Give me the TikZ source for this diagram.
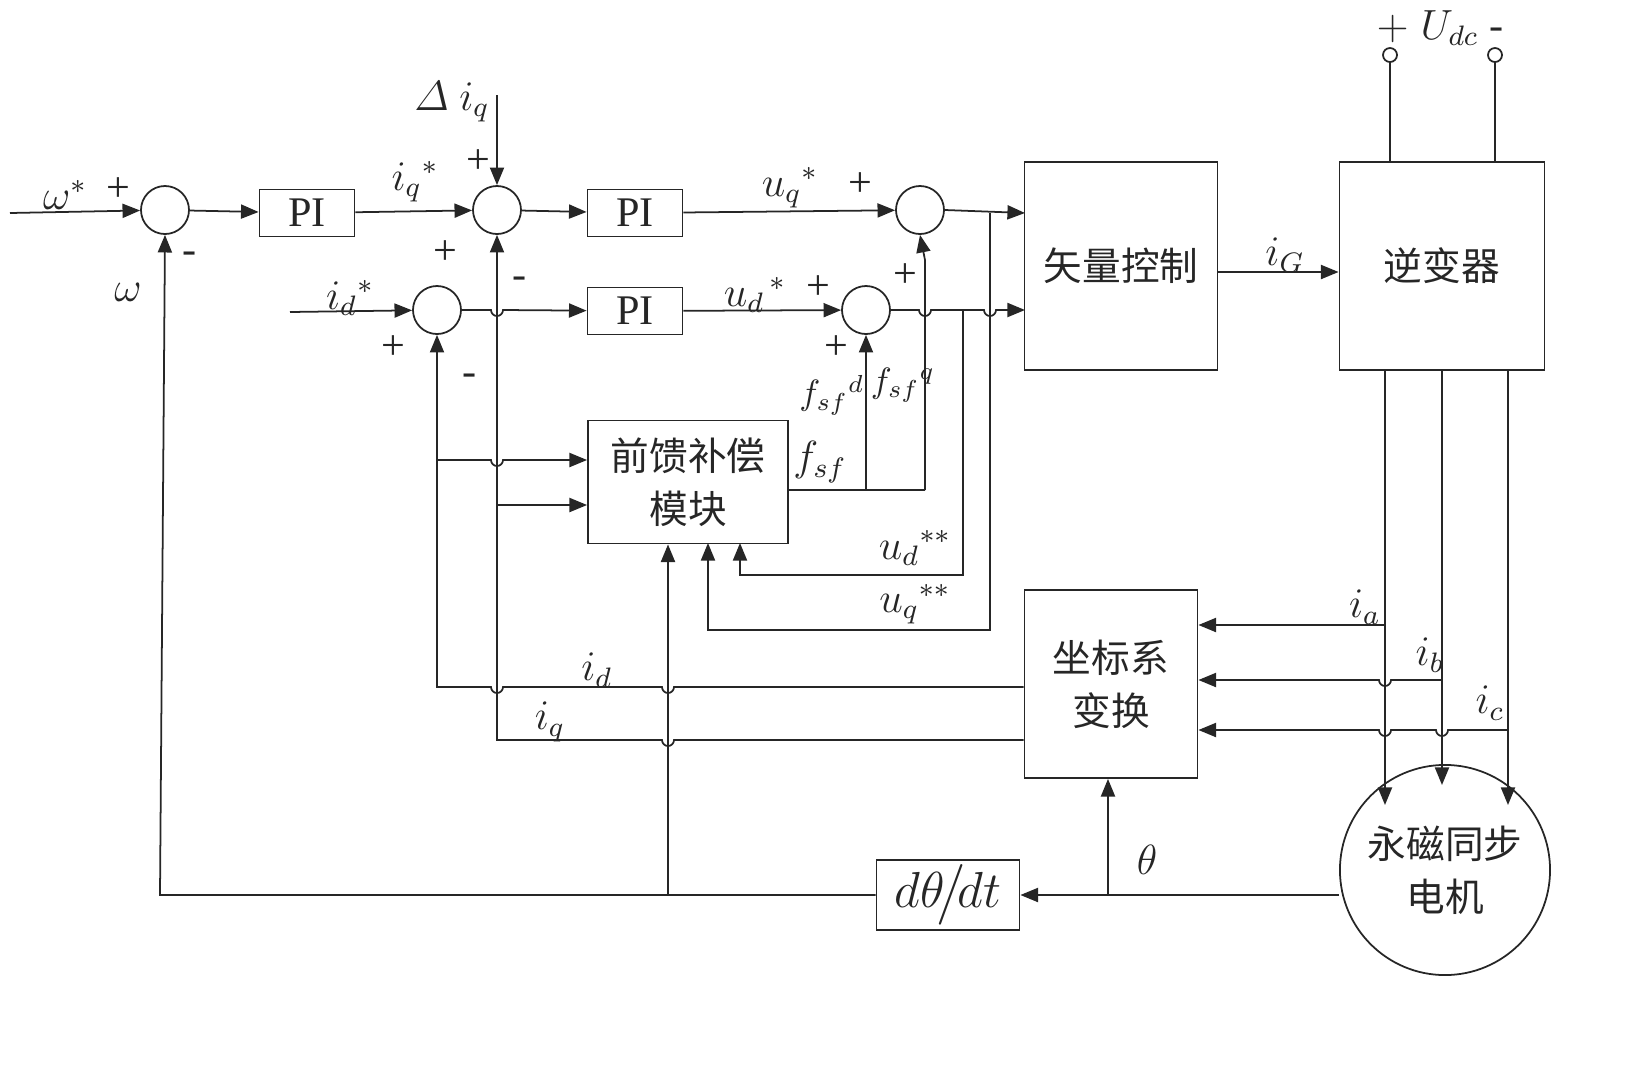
\documentclass[tikz,border=0pt]{standalone}
\usepackage{amsmath}
\usepackage{fontspec}
\setmainfont{Liberation Serif}
\newfontfamily\cjk{Noto Sans CJK SC}
\usetikzlibrary{calc,arrows.meta}

\tikzset{
  sumnode/.style={draw,circle,minimum size=0.48cm,inner sep=0pt},
  blk/.style={draw,rectangle,inner sep=0pt,font=\cjk\fontsize{11}{15}\selectfont,align=center},
  piblk/.style={draw,rectangle,minimum width=0.95cm,minimum height=0.47cm,inner sep=0pt,font=\large},
  lbl/.style={inner sep=1pt,font=\large},
  sig/.style={-{Triangle[length=5pt,width=4pt]}},
}

\begin{document}
\begin{tikzpicture}[x=0.01cm,y=-0.01cm,line width=0.5pt,color=black!85]
\def\h{6}

% summing points
\node[sumnode] (s1) at (165,210) {};
\node[sumnode] (s2) at (497,210) {};
\node[sumnode] (s3) at (920,210) {};
\node[sumnode] (s4) at (437,310) {};
\node[sumnode] (s5) at (866,310) {};

% blocks
\node[piblk] (pi1) at (307,213) {PI};
\node[piblk] (pi2) at (635,213) {PI};
\node[piblk] (pi3) at (635,311) {PI};
\node[blk,minimum width=1.93cm,minimum height=2.08cm] (vc) at (1121,266) {矢量控制};
\node[blk,minimum width=2.05cm,minimum height=2.08cm] (inv) at (1442,266) {逆变器};
\node[blk,minimum width=2.0cm,minimum height=1.23cm] (ff) at (688,482) {前馈补偿\\模块};
\node[blk,minimum width=1.73cm,minimum height=1.88cm] (ct) at (1111,684) {坐标系\\变换};
\node[draw,circle,minimum size=2.1cm,inner sep=0pt,font=\cjk\fontsize{11}{15}\selectfont,align=center] (pm) at (1445,870) {永磁同步\\电机};
\node[draw,minimum width=1.43cm,minimum height=0.7cm,inner sep=0pt,font=\Large] (dt) at (948,895) {$d\theta\!\big/\!dt$};

% DC terminals
\node[draw,circle,minimum size=0.14cm,inner sep=0pt] (tp) at (1390,55) {};
\node[draw,circle,minimum size=0.14cm,inner sep=0pt] (tm) at (1495,55) {};
\draw (tp) -- (1390,162);
\draw (tm) -- (1495,162);
\node[lbl] (udc) at (1440,28) {$+\;U_{dc}$ -};

% speed loop
\coordinate (win) at (10,213);
\draw[sig] (win) -- (s1);
\draw[sig] (s1) -- (pi1);
\draw[sig] (pi1) -- (s2);
\coordinate (dq) at (497,95);
\draw[sig] (dq) -- (s2);
\draw[sig] (s2) -- (pi2);
\draw[sig] (pi2) -- (s3);
\draw[sig] (s3.east) -- (1025,213);

% d loop
\coordinate (din) at (290,312);
\draw[sig] (din) -- (s4);
\draw[sig] (s4.east) -- (497-\h,310) arc[start angle=180,end angle=0,radius=\h] -- (pi3);
\draw[sig] (pi3) -- (s5);
\draw[sig] (s5.east) -- (925-\h,310) arc[start angle=180,end angle=0,radius=\h]
  -- (990-\h,310) arc[start angle=180,end angle=0,radius=\h] -- (1025,310);
\draw[sig] (vc.east |- 0,272) -- (inv.west |- 0,272);

% feedforward
\draw (ff.east |- 0,490) -- (925,490);
\draw[sig] (866,490) -- (s5.south);
\draw[sig] (925,490) -- (925,260) -- (s3.south);
\draw[sig] (963,310) -- (963,575) -- (740,575) -- (740,543);
\draw[sig] (990,213) -- (990,630) -- (708,630) -- (708,543);
\draw[sig] (437,460) -- (497-\h,460) arc[start angle=180,end angle=0,radius=\h] -- (ff.west |- 0,460);
\draw[sig] (497,505) -- (ff.west |- 0,505);

% current feedback
\draw[sig] (ct.west |- 0,687) -- (668+\h,687) arc[start angle=0,end angle=180,radius=\h]
  -- (497+\h,687) arc[start angle=0,end angle=180,radius=\h] -- (437,687) -- (s4.south);
\draw[sig] (ct.west |- 0,740) -- (668+\h,740) arc[start angle=0,end angle=180,radius=\h]
  -- (497,740) -- (s2.south);

% phase currents
\draw[sig] (1385,370) -- (1385,805);
\draw[sig] (1442,370) -- (1442,785);
\draw[sig] (1508,370) -- (1508,805);
\draw[sig] (1385,625) -- (ct.east |- 0,625);
\draw[sig] (1442,680) -- (1385+\h,680) arc[start angle=0,end angle=180,radius=\h] -- (ct.east |- 0,680);
\draw[sig] (1508,730) -- (1442+\h,730) arc[start angle=0,end angle=180,radius=\h]
  -- (1385+\h,730) arc[start angle=0,end angle=180,radius=\h] -- (ct.east |- 0,730);

% angle and speed
\draw[sig] (pm.west |- 0,895) -- (dt);
\draw[sig] (1108,895) -- (ct.south -| 1108,0);
\draw[sig] (dt.west) -- (160,895) -- (s1.south);
\draw[sig] (668,895) -- (ff.south -| 668,0);

% labels
\node[lbl] (lw) at (65,195) {$\omega^*$};
\node[lbl] (l1) at (118,190) {+};
\node[lbl] (l2) at (190,258) {-};
\node[lbl] (lo) at (128,292) {$\omega$};
\node[lbl] (liq) at (415,182) {$i_q{}^*$};
\node[lbl] (ldi) at (452,102) {$\varDelta\ i_q$};
\node[lbl] (l3) at (478,162) {+};
\node[lbl] (l4) at (520,283) {-};
\node[lbl] (luq) at (790,188) {$u_q{}^*$};
\node[lbl] (l5) at (860,185) {+};
\node[lbl] (lid) at (350,298) {$i_d{}^*$};
\node[lbl] (l6) at (445,253) {+};
\node[lbl] (l7) at (393,348) {+};
\node[lbl] (l8) at (470,380) {-};
\node[lbl] (lud) at (755,295) {$u_d{}^{\,*}$};
\node[lbl] (l9) at (818,288) {+};
\node[lbl] (l10) at (836,348) {+};
\node[lbl] (l11) at (905,276) {+};
\node[lbl,font=\normalsize] (lfd) at (832,395) {$f_{sf}{}^d$};
\node[lbl,font=\normalsize] (lfq) at (903,385) {$f_{sf}{}^q$};
\node[lbl] (lf) at (820,462) {$f_{sf}$};
\node[lbl] (ludd) at (915,548) {$u_d{}^{**}$};
\node[lbl] (luqq) at (915,604) {$u_q{}^{**}$};
\node[lbl] (lig) at (1285,255) {$i_G$};
\node[lbl] (lia) at (1365,607) {$i_a$};
\node[lbl] (lib) at (1430,655) {$i_b$};
\node[lbl] (lic) at (1490,703) {$i_c$};
\node[lbl] (lidf) at (597,670) {$i_d$};
\node[lbl] (liqf) at (550,722) {$i_q$};
\node[lbl] (lth) at (1147,860) {$\theta$};

\pgfresetboundingbox
\path[use as bounding box] (0,0) rectangle (1647,1069);
\end{tikzpicture}
\end{document}
